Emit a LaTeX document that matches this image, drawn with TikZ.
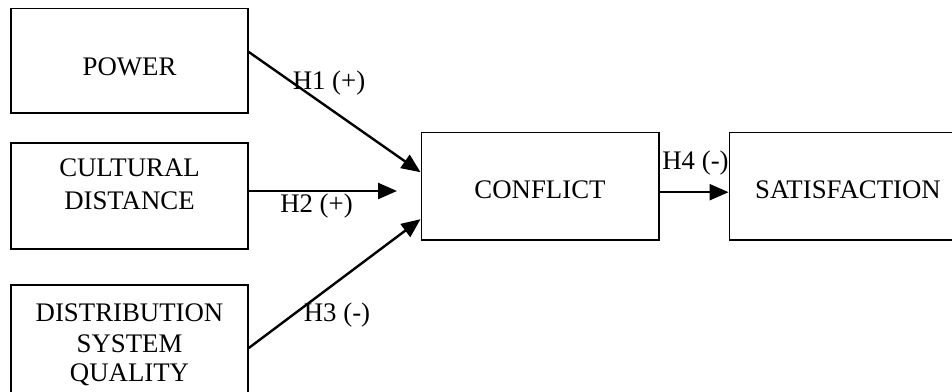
\documentclass[tikz,border=0pt]{standalone}
\usepackage{fontspec}
\setmainfont{Liberation Serif}
\usetikzlibrary{arrows.meta}
\begin{document}
\begin{tikzpicture}[x=1pt,y=-1pt,
  box/.style={draw, line width=1.6pt, rectangle, inner sep=0pt, minimum width=237pt},
  lbl/.style={anchor=base, inner sep=0pt, font=\fontsize{26.8}{33}\selectfont},
  link/.style={line width=2.4pt, -{Triangle[length=19pt,width=16pt]}}]
\useasboundingbox (0,0) rectangle (952,391);
\clip (0,0) rectangle (952,391);
% boxes
\node[box, minimum height=104.4pt] (power) at (129.5,60.5) {};
\node[box, minimum height=106.3pt] (cultural) at (129.5,195.9) {};
\node[box, minimum height=108pt] (distribution) at (129.5,339) {};
\node[box, minimum height=107.7pt, minimum width=237.4pt] (conflict) at (540,186.2) {};
\node[box, minimum height=107.7pt, minimum width=237.7pt] (satisfaction) at (848.2,186.2) {};
% box texts
\node[lbl] (tpower) at (129.5,75.3) {POWER};
\node[lbl] (tcult1) at (129.5,176) {CULTURAL};
\node[lbl] (tcult2) at (129.5,209.3) {DISTANCE};
\node[lbl] (tdist1) at (129.5,321.7) {DISTRIBUTION};
\node[lbl] (tdist2) at (129.5,352.3) {SYSTEM};
\node[lbl] (tdist3) at (129.5,381.7) {QUALITY};
\node[lbl] (tconf) at (540,198.6) {CONFLICT};
\node[lbl] (tsat) at (848,198.6) {SATISFACTION};
% connectors
\coordinate (h2end) at (397,191);
\draw[link] ([yshift=8.5pt]power.east) -- ([yshift=14pt]conflict.west);
\draw[link] ([yshift=4.9pt]cultural.east) -- (h2end);
\draw[link] ([yshift=-9pt]distribution.east) -- ([yshift=-33pt]conflict.west);
\draw[link] ([yshift=-6pt]conflict.east) -- ([yshift=-6pt]satisfaction.west);
% labels
\node[lbl] (h1) at (329,89.3) {H1 (+)};
\node[lbl] (h2) at (316.5,212) {H2 (+)};
\node[lbl] (h3) at (337,321) {H3 (-)};
\node[lbl] (h4) at (695.5,169.3) {H4 (-)};
\end{tikzpicture}
\end{document}
